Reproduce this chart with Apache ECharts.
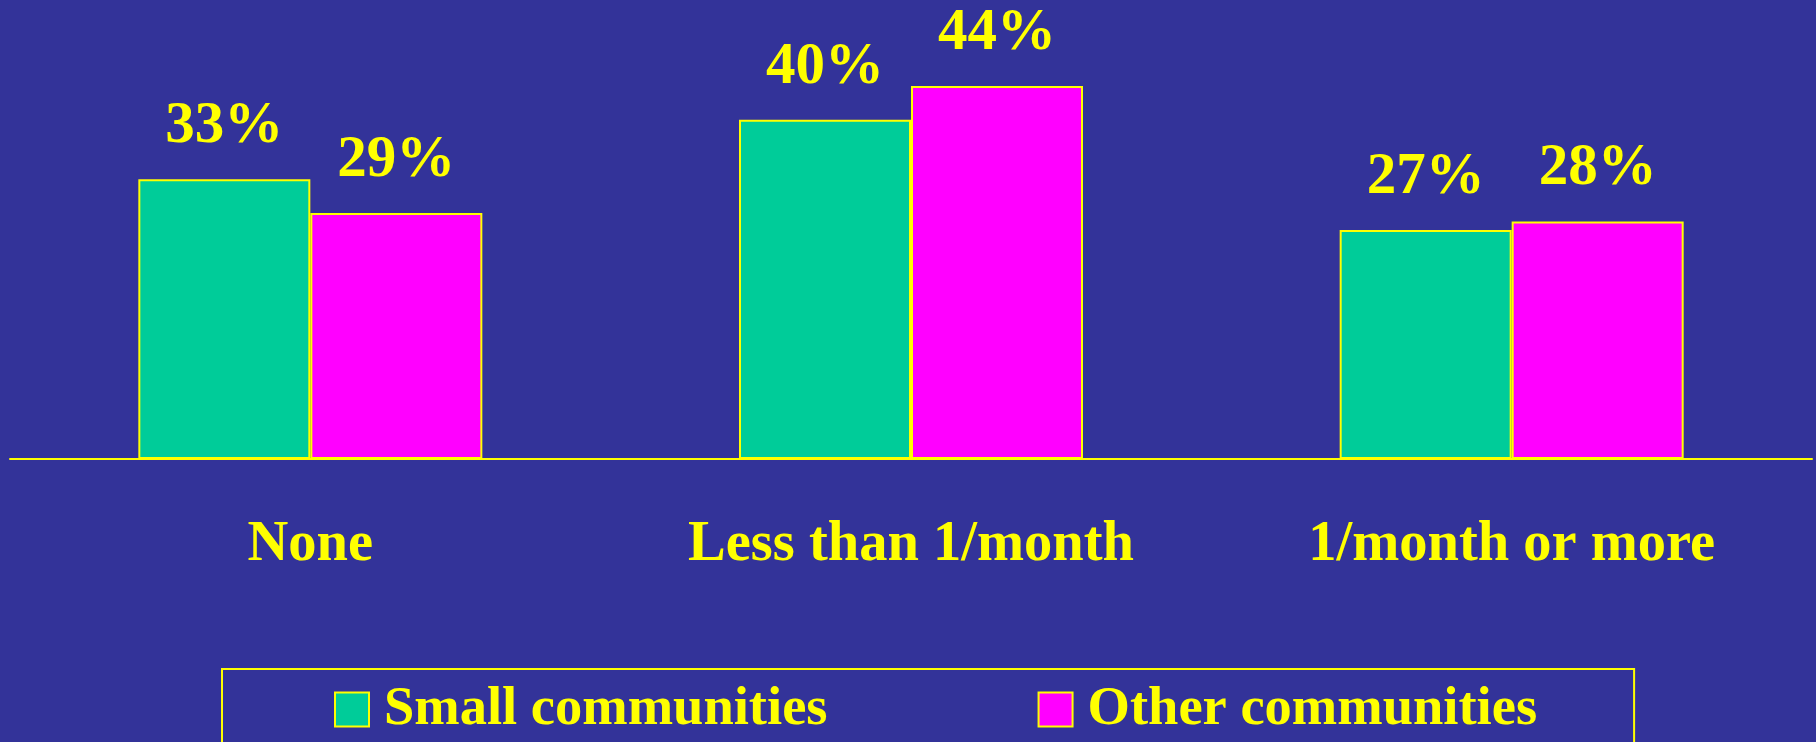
<!DOCTYPE html>
<html>
<head>
<meta charset="utf-8">
<script src="https://cdn.jsdelivr.net/npm/echarts@6/dist/echarts.min.js"></script>
<style>
html,body{margin:0;padding:0;background:#333399;}
#chart{width:1816px;height:742px;}
</style>
</head>
<body>
<div id="chart"></div>
<script>
const categories = ['None', 'Less than 1/month', '1/month or more'];
const smallCommunities = [33, 40, 27];
const otherCommunities = [29, 44, 28];
const seriesNames = ['Small communities', 'Other communities'];

const FONT = "'Liberation Serif', 'Times New Roman', serif";
const YELLOW = '#FFFF00';

const chart = echarts.init(document.getElementById('chart'), null, {renderer: 'canvas'});
const labelStyle = {
  show: true,
  position: 'top',
  distance: 23,
  color: YELLOW,
  fontFamily: FONT,
  fontWeight: 'bold',
  fontSize: 59,
  lineHeight: 59,
  formatter: '{c}%'
};
chart.setOption({
  backgroundColor: '#333399',
  animation: false,
  grid: {left: 10, right: 4, top: 35, bottom: 283, containLabel: false, outerBoundsMode: 'none'},
  xAxis: {
    type: 'category',
    data: categories,
    axisTick: {show: false},
    axisLine: {show: true, lineStyle: {color: YELLOW, width: 2}},
    axisLabel: {
      color: YELLOW, fontFamily: FONT, fontWeight: 'bold', fontSize: 56.5, lineHeight: 57,
      margin: 58, interval: 0
    },
    splitLine: {show: false}
  },
  yAxis: {
    type: 'value', min: 0, max: 50, show: false,
    splitLine: {show: false}
  },
  legend: {
    left: 222,
    top: 669,
    orient: 'horizontal',
    padding: [10, 97, 40, 112],
    borderColor: YELLOW,
    borderWidth: 2,
    itemWidth: 34,
    itemHeight: 34,
    itemGap: 210,
    icon: 'rect',
    textStyle: {color: YELLOW, fontFamily: FONT, fontWeight: 'bold', fontSize: 54.5, lineHeight: 55, padding: [6, 0, 0, 10]},
    itemStyle: {borderColor: YELLOW, borderWidth: 2},
    data: seriesNames
  },
  series: [
    {
      name: seriesNames[0],
      type: 'bar',
      data: smallCommunities,
      barWidth: 172,
      barGap: '0%',
      itemStyle: {color: '#00CC99', borderColor: YELLOW, borderWidth: 2},
      label: labelStyle
    },
    {
      name: seriesNames[1],
      type: 'bar',
      data: otherCommunities,
      barWidth: 172,
      barGap: '0%',
      itemStyle: {color: '#FF00FF', borderColor: YELLOW, borderWidth: 2},
      label: labelStyle
    }
  ]
});
</script>
</body>
</html>
